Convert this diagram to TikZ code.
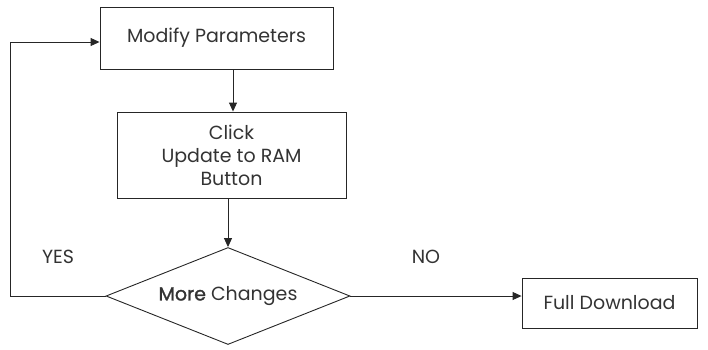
\documentclass[tikz,border=0pt]{standalone}
\usepackage{fontspec}
\setmainfont{Poppins}
\newfontfamily\morefont[FakeBold=1.3]{Poppins}
\usetikzlibrary{arrows.meta,shapes.geometric}
\begin{document}
\begin{tikzpicture}[x=1pt,y=-1pt,
  box/.style={draw=black!85,line width=0.9pt,inner sep=0pt,font=\fontsize{19}{23}\selectfont,align=center,text=black!80},
  conn/.style={draw=black!85,line width=0.9pt},
  arr/.style={conn,-{Triangle[length=9pt,width=8pt]}},
  lbl/.style={font=\fontsize{19}{23}\selectfont,text=black!80}]
\useasboundingbox (0,0) rectangle (708,349);
\node[box,minimum width=233pt,minimum height=62pt] (mod) at (216.5,38) {Modify Parameters};
\node[box,minimum width=229pt,minimum height=86pt] (click) at (231.5,155) {Click\\Update to RAM\\Button};
\node[box,diamond,aspect=2.5,minimum width=244pt,minimum height=97pt] (more) at (228,296) {};
\node[lbl] at (more) {{\morefont More} Changes};
\node[box,minimum width=175pt,minimum height=50pt] (full) at (609.5,303) {Full Download};
\coordinate (c1) at (10,296);
\coordinate (c2) at (10,42);
\draw[arr] (mod.south -| 233,0) -- (click.north -| 233,0);
\draw[arr] (click.south -| 228,0) -- (more.north);
\draw[arr] (more.east) -- (more.east -| full.west);
\draw[arr] (more.west) -- (c1) -- (c2) -- (c2 -| mod.west);
\node[lbl] (yes) at (58,257) {YES};
\node[lbl] (no) at (426,257) {NO};
\end{tikzpicture}
\end{document}
